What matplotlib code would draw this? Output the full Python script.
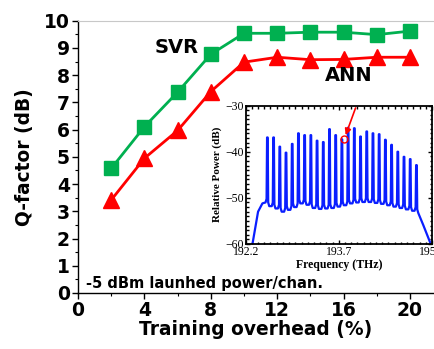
import matplotlib.pyplot as plt
from matplotlib.ticker import MultipleLocator

# main chart data
overhead = [2, 4, 6, 8, 10, 12, 14, 16, 18, 20]
q_svr = [4.58, 6.11, 7.38, 8.77, 9.54, 9.54, 9.58, 9.58, 9.49, 9.62]
q_ann = [3.42, 4.95, 5.97, 7.40, 8.48, 8.66, 8.57, 8.58, 8.66, 8.66]

# inset spectrum data (25 channels, 100 GHz grid)
chan_freq = [192.55, 192.65, 192.75, 192.85, 192.95, 193.05, 193.15, 193.25,
             193.35, 193.45, 193.55, 193.65, 193.75, 193.85, 193.95, 194.05,
             194.15, 194.25, 194.35, 194.45, 194.55, 194.65, 194.75, 194.85,
             194.95]
chan_peak = [-36.9, -36.9, -38.9, -40.2, -38.3, -36.0, -36.4, -36.4, -37.6,
             -37.9, -35.1, -36.4, -37.3, -34.8, -34.9, -36.7, -35.6, -36.0,
             -36.2, -37.4, -38.5, -40.0, -41.1, -41.6, -42.9]
floor_level = [-51.0, -51.8, -52.3, -53.0, -52.6, -52.0, -51.2, -51.5, -52.2,
               -52.4, -52.3, -52.2, -51.9, -51.6, -51.2, -51.0, -50.9, -50.9,
               -51.1, -51.3, -51.6, -51.9, -52.2, -52.5, -52.8, -53.3]
edge_left = [(192.31, -60.0), (192.40, -53.0), (192.47, -51.2)]
edge_right = [(195.06, -55.9), (195.18, -60.0)]

# build the trace from the channel list
fx = [p[0] for p in edge_left]
fy = [p[1] for p in edge_left]
for i, f in enumerate(chan_freq):
    fx += [f - 0.03, f - 0.013, f - 0.005, f + 0.005, f + 0.013, f + 0.03]
    fy += [floor_level[i], floor_level[i] + 0.8, chan_peak[i], chan_peak[i],
           floor_level[i + 1] + 0.8, floor_level[i + 1]]
fx += [p[0] for p in edge_right]
fy += [p[1] for p in edge_right]

green = '#00b050'
red = '#ff0000'

fig = plt.figure(figsize=(4.34, 3.49), dpi=100)
ax = fig.add_axes([0.18, 0.1605, 0.82, 0.780])

ax.plot(overhead, q_svr, '-', color=green, lw=2, marker='s', ms=10,
        mec=green, mfc=green, clip_on=False, zorder=3)
ax.plot(overhead, q_ann, '-', color=red, lw=2, marker='^', ms=11,
        mec=red, mfc=red, clip_on=False, zorder=3)

ax.set_xlim(0, 21.45)
ax.set_ylim(0, 10)
ax.set_xticks([0, 4, 8, 12, 16, 20])
ax.set_yticks(range(0, 11))
ax.xaxis.set_minor_locator(MultipleLocator(2))
ax.yaxis.set_minor_locator(MultipleLocator(0.5))
ax.tick_params(which='major', direction='out', length=4, width=1,
               labelsize=13.5, pad=2)
ax.tick_params(which='minor', direction='out', length=2, width=0.8)
for lab in ax.get_xticklabels() + ax.get_yticklabels():
    lab.set_fontweight('bold')
ax.spines['right'].set_visible(False)
ax.spines['top'].set_color('#c8c8c8')
ax.spines['left'].set_linewidth(1.0)
ax.spines['bottom'].set_linewidth(1.0)
ax.set_xlabel('Training overhead (%)', fontsize=13.4, fontweight='bold',
              labelpad=0)
ax.set_ylabel('Q-factor (dB)', fontsize=13.4, fontweight='bold', labelpad=7)

ax.text(4.6, 9.0, 'SVR', fontsize=14, fontweight='bold', ha='left',
        va='center')
ax.text(14.9, 8.0, 'ANN', fontsize=14, fontweight='bold', ha='left',
        va='center')
ax.text(0.5, 0.35, '-5 dBm launhed power/chan.', fontsize=10.5,
        fontweight='bold', ha='left', va='center')

# inset
ins = fig.add_axes([0.566, 0.301, 0.4293, 0.3963])
serif = ['Liberation Serif', 'DejaVu Serif']
ins.plot(fx, fy, color='#0a1eff', lw=1.6)
ins.set_xlim(192.2, 195.2)
ins.set_ylim(-60, -30)
ins.set_xticks([192.2, 193.7, 195.2])
ins.set_xticklabels(['192.2', '193.7', '195.2'])
ins.set_yticks([-60, -50, -40, -30])
ins.xaxis.set_minor_locator(MultipleLocator(0.1))
ins.yaxis.set_minor_locator(MultipleLocator(1))
ins.tick_params(which='both', direction='in', top=True, right=True,
                labelsize=8.5, pad=1.5)
ins.tick_params(which='major', length=3, width=1)
ins.tick_params(which='minor', length=1.8, width=1)
for lab in ins.get_xticklabels() + ins.get_yticklabels():
    lab.set_family(serif)
for sp in ins.spines.values():
    sp.set_linewidth(1.3)
ins.set_xlabel('Frequency (THz)', fontsize=8.5, fontweight='bold',
               family=serif, labelpad=1)
ins.set_ylabel('Relative Power (dB)', fontsize=8, fontweight='bold',
               family=serif, labelpad=2)

ins.plot([chan_freq[12] + 0.03], [chan_peak[12]], 'o', ms=5, mfc='none',
         mec=red, mew=1)
ins.annotate('', xy=(193.81, -36.4), xytext=(193.97, -30.5),
             arrowprops=dict(arrowstyle='-|>', color=red, lw=1.2,
                             mutation_scale=9, shrinkA=0, shrinkB=0))

fig.savefig('out.png', dpi=100)
